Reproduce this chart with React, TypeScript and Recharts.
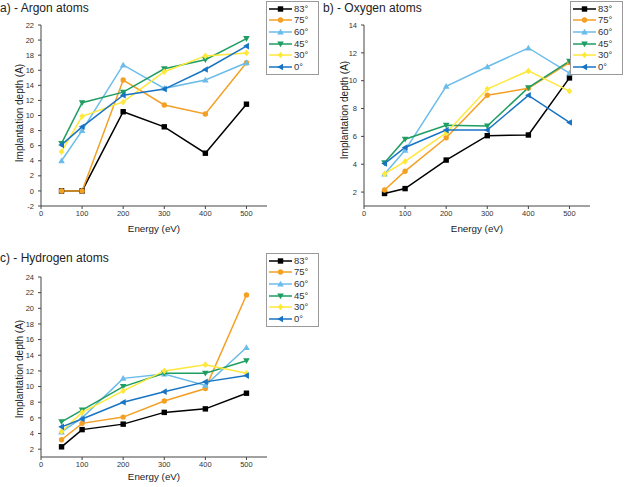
import React from 'react';
import { LineChart, Line, XAxis, YAxis, Legend } from 'recharts';

const energies = [50, 100, 200, 300, 400, 500];
const angleLabels = ['83°', '75°', '60°', '45°', '30°', '0°'];
const seriesColors = ['#000000', '#F4A024', '#6BBCEA', '#1F9E62', '#FFE83A', '#1874C3'];
const markerShapes = ['square', 'circle', 'triangleUp', 'triangleDown', 'diamond', 'triangleLeft'];

const argon83 = [0, 0, 10.5, 8.5, 5.0, 11.5];
const argon75 = [0, 0, 14.7, 11.4, 10.2, 17.0];
const argon60 = [4.0, 8.0, 16.7, 13.6, 14.7, 17.0];
const argon45 = [6.3, 11.7, 13.1, 16.2, 17.4, 20.2];
const argon30 = [5.2, 9.9, 11.8, 15.8, 17.9, 18.3];
const argon0 = [6.1, 8.5, 12.7, 13.5, 16.1, 19.2];

const oxygen83 = [1.9, 2.25, 4.3, 6.05, 6.1, 10.2];
const oxygen75 = [2.15, 3.5, 5.9, 8.95, 9.45, 11.3];
const oxygen60 = [3.3, 5.0, 9.6, 11.0, 12.35, 10.55];
const oxygen45 = [4.1, 5.8, 6.8, 6.75, 9.5, 11.4];
const oxygen30 = [3.3, 4.2, 6.25, 9.4, 10.7, 9.25];
const oxygen0 = [4.05, 5.2, 6.45, 6.45, 8.95, 7.0];

const hydrogen83 = [2.3, 4.5, 5.2, 6.7, 7.15, 9.15];
const hydrogen75 = [3.2, 5.3, 6.1, 8.15, 9.75, 21.7];
const hydrogen60 = [4.2, 6.0, 11.05, 11.6, 10.15, 15.0];
const hydrogen45 = [5.5, 7.0, 10.0, 11.7, 11.7, 13.3];
const hydrogen30 = [4.25, 6.7, 9.45, 12.0, 12.8, 11.7];
const hydrogen0 = [4.85, 5.85, 8.0, 9.35, 10.6, 11.4];

const energyTicks = [0, 100, 200, 300, 400, 500];
const energyMinorTicks = [50, 150, 250, 350, 450, 550];
const argonTicks = [-2, 0, 2, 4, 6, 8, 10, 12, 14, 16, 18, 20, 22];
const argonMinorTicks = [-1, 1, 3, 5, 7, 9, 11, 13, 15, 17, 19, 21];
const oxygenTicks = [2, 4, 6, 8, 10, 12, 14];
const oxygenMinorTicks = [1, 3, 5, 7, 9, 11, 13];
const hydrogenTicks = [2, 4, 6, 8, 10, 12, 14, 16, 18, 20, 22, 24];
const hydrogenMinorTicks = [1, 3, 5, 7, 9, 11, 13, 15, 17, 19, 21, 23];

const argonSeries = [argon83, argon75, argon60, argon45, argon30, argon0];
const oxygenSeries = [oxygen83, oxygen75, oxygen60, oxygen45, oxygen30, oxygen0];
const hydrogenSeries = [hydrogen83, hydrogen75, hydrogen60, hydrogen45, hydrogen30, hydrogen0];

function buildRows(series: number[][]) {
  return energies.map((e, i) => {
    const row: any = { e };
    series.forEach((s, j) => {
      row['s' + j] = s[i];
    });
    return row;
  });
}

const FONT = 'Arial, "Liberation Sans", Helvetica, sans-serif';
const AXIS_COLOR = '#444';

function markerEl(shape: string, cx: number, cy: number, color: string, key?: any) {
  const s = 2.7;
  const t = 3.3;
  switch (shape) {
    case 'square':
      return <rect key={key} x={cx - s} y={cy - s} width={2 * s} height={2 * s} fill={color} />;
    case 'circle':
      return <circle key={key} cx={cx} cy={cy} r={s} fill={color} />;
    case 'triangleUp':
      return <polygon key={key} points={`${cx},${cy - t} ${cx + t},${cy + t * 0.75} ${cx - t},${cy + t * 0.75}`} fill={color} />;
    case 'triangleDown':
      return <polygon key={key} points={`${cx},${cy + t} ${cx + t},${cy - t * 0.75} ${cx - t},${cy - t * 0.75}`} fill={color} />;
    case 'diamond':
      return <polygon key={key} points={`${cx},${cy - t} ${cx + t * 0.85},${cy} ${cx},${cy + t} ${cx - t * 0.85},${cy}`} fill={color} />;
    case 'triangleLeft':
      return <polygon key={key} points={`${cx - t},${cy} ${cx + t * 0.75},${cy - t} ${cx + t * 0.75},${cy + t}`} fill={color} />;
    default:
      return <circle key={key} cx={cx} cy={cy} r={s} fill={color} />;
  }
}

function makeDot(idx: number) {
  return (props: any) => {
    const { cx, cy, index } = props;
    if (cx == null || cy == null) return <g key={`d${idx}-${index}`} />;
    return markerEl(markerShapes[idx], cx, cy, seriesColors[idx], `d${idx}-${index}`);
  };
}

const LegendBox = (props: any) => {
  const payload = (props.payload || []).slice();
  payload.sort((a: any, b: any) => angleLabels.indexOf(a.value) - angleLabels.indexOf(b.value));
  return (
    <div
      style={{
        border: '1px solid #9a9a9a',
        background: '#fff',
        width: 53,
        boxSizing: 'border-box',
        padding: '1px 0 1px 0',
        fontFamily: FONT,
        fontSize: 9.5,
        color: '#333',
      }}
    >
      {payload.map((entry: any) => {
        const i = angleLabels.indexOf(entry.value);
        return (
          <div key={entry.value} style={{ display: 'flex', alignItems: 'center', height: 11.6 }}>
            <svg width={26} height={10} style={{ marginLeft: 1 }}>
              <line x1={1} y1={5} x2={24} y2={5} stroke={seriesColors[i]} strokeWidth={1.5} />
              {markerEl(markerShapes[i], 12.5, 5, seriesColors[i])}
            </svg>
            <span style={{ marginLeft: 0, lineHeight: '10px' }}>{entry.value}</span>
          </div>
        );
      })}
    </div>
  );
};

type PanelProps = {
  series: number[][];
  width: number;
  height: number;
  margin: any;
  yWidth: number;
  xHeight: number;
  yDomain: [number, number];
  yTicks: number[];
  yMinorTicks: number[];
  legendLeft: number;
  legendTop: number;
  xLabelOffset: number;
};

function Panel(p: PanelProps) {
  const data = buildRows(p.series);
  const tickStyle = { fontSize: 7.5, fill: '#333', fontFamily: FONT };
  return (
    <LineChart width={p.width} height={p.height} data={data} margin={p.margin}>
      <XAxis
        xAxisId="minor"
        dataKey="e"
        type="number"
        domain={[0, 550]}
        ticks={energyMinorTicks}
        height={0}
        tick={false}
        tickSize={2}
        axisLine={false}
        tickLine={{ stroke: AXIS_COLOR }}
        allowDataOverflow
        interval={0}
      />
      <XAxis
        dataKey="e"
        type="number"
        domain={[0, 550]}
        ticks={energyTicks}
        height={p.xHeight}
        tick={tickStyle}
        tickSize={3}
        tickMargin={2}
        stroke={AXIS_COLOR}
        tickLine={{ stroke: AXIS_COLOR }}
        allowDataOverflow
        interval={0}
        label={{
          value: 'Energy (eV)',
          position: 'insideBottom',
          offset: p.xLabelOffset,
          style: { fontSize: 9.8, fill: '#222', fontFamily: FONT },
        }}
      />
      <YAxis
        yAxisId="minor"
        type="number"
        domain={p.yDomain}
        ticks={p.yMinorTicks}
        width={0}
        tick={false}
        tickSize={2}
        axisLine={false}
        tickLine={{ stroke: AXIS_COLOR }}
        allowDataOverflow
        interval={0}
      />
      <YAxis
        type="number"
        domain={p.yDomain}
        ticks={p.yTicks}
        width={p.yWidth}
        tick={tickStyle}
        tickSize={3}
        tickMargin={4}
        stroke={AXIS_COLOR}
        tickLine={{ stroke: AXIS_COLOR }}
        allowDataOverflow
        interval={0}
      />
      {angleLabels.map((name, i) => (
        <Line
          key={name}
          type="linear"
          dataKey={'s' + i}
          name={name}
          stroke={seriesColors[i]}
          strokeWidth={1.5}
          dot={makeDot(i)}
          activeDot={false}
          isAnimationActive={false}
        />
      ))}
      <Legend
        layout="vertical"
        align="center"
        verticalAlign="middle"
        content={LegendBox}
        wrapperStyle={{ left: p.legendLeft, top: p.legendTop, width: 53, height: 'auto' }}
      />
    </LineChart>
  );
}

const titleStyle: React.CSSProperties = {
  position: 'absolute',
  fontFamily: FONT,
  fontSize: 12,
  color: '#222',
  whiteSpace: 'nowrap',
  lineHeight: '14px',
};

function YLabel({ cx, cy }: { cx: number; cy: number }) {
  return (
    <div
      style={{
        position: 'absolute',
        left: cx,
        top: cy,
        transform: 'translate(-50%, -50%) rotate(-90deg)',
        fontFamily: FONT,
        fontSize: 10,
        color: '#222',
        whiteSpace: 'nowrap',
        lineHeight: '12px',
      }}
    >
      Implantation depth (A)
    </div>
  );
}

export default function App() {
  return (
    <div style={{ position: 'absolute', left: 0, top: 0, width: 625, height: 487, background: '#fff', overflow: 'hidden' }}>
      <div style={{ position: 'absolute', left: 0, top: 0 }}>
        <Panel
          series={argonSeries}
          width={320}
          height={240}
          margin={{ top: 25, right: 53, left: 0, bottom: 0 }}
          yWidth={41}
          xHeight={34}
          yDomain={[-2, 22]}
          yTicks={argonTicks}
          yMinorTicks={argonMinorTicks}
          legendLeft={266}
          legendTop={1}
          xLabelOffset={8}
        />
      </div>
      <div style={{ position: 'absolute', left: 310, top: 0 }}>
        <Panel
          series={oxygenSeries}
          width={315}
          height={240}
          margin={{ top: 25, right: 35, left: 0, bottom: 0 }}
          yWidth={54}
          xHeight={34}
          yDomain={[1, 14]}
          yTicks={oxygenTicks}
          yMinorTicks={oxygenMinorTicks}
          legendLeft={260}
          legendTop={1}
          xLabelOffset={8}
        />
      </div>
      <div style={{ position: 'absolute', left: 0, top: 240 }}>
        <Panel
          series={hydrogenSeries}
          width={320}
          height={247}
          margin={{ top: 37, right: 53, left: 0, bottom: 0 }}
          yWidth={41}
          xHeight={30}
          yDomain={[1, 24]}
          yTicks={hydrogenTicks}
          yMinorTicks={hydrogenMinorTicks}
          legendLeft={266}
          legendTop={13}
          xLabelOffset={7}
        />
      </div>
      <div style={{ ...titleStyle, left: 0, top: 1 }}>a) - Argon atoms</div>
      <div style={{ ...titleStyle, left: 323, top: 1 }}>b) - Oxygen atoms</div>
      <div style={{ ...titleStyle, left: 0, top: 251 }}>c) - Hydrogen atoms</div>
      <YLabel cx={20} cy={113} />
      <YLabel cx={345} cy={110} />
      <YLabel cx={20} cy={369} />
    </div>
  );
}
